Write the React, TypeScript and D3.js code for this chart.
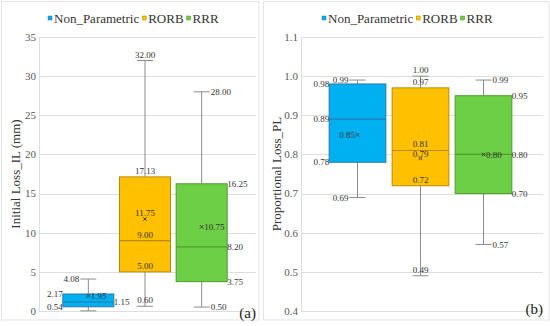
import React, { useEffect, useRef } from "react";
import * as d3 from "d3";

const series = ["Non_Parametric", "RORB", "RRR"];
const fills = ["#00B0F0", "#FFC000", "#6CCF45"];
const strokes = ["#2779a8", "#b98a00", "#4f9a30"];

// Panel (a): Initial Loss_IL (mm)
const ilMin = [0.02, 0.6, 0.5];
const ilQ1 = [0.54, 5.0, 3.75];
const ilMed = [1.15, 9.0, 8.2];
const ilQ3 = [2.17, 17.13, 16.25];
const ilMax = [4.08, 32.0, 28.0];
const ilMean = [1.95, 11.75, 10.75];
const ilTicks = [0, 5, 10, 15, 20, 25, 30, 35];

// Panel (b): Proportional Loss_PL
const plMin = [0.69, 0.49, 0.57];
const plQ1 = [0.78, 0.72, 0.7];
const plMed = [0.89, 0.81, 0.8];
const plQ3 = [0.98, 0.97, 0.95];
const plMax = [0.99, 1.0, 0.99];
const plMean = [0.85, 0.79, 0.8];
const plTicks = [0.4, 0.5, 0.6, 0.7, 0.8, 0.9, 1.0, 1.1];

// label placement per series: [min, q1, med, q3, max, mean]
const ilPlace = [
  ["none", "left", "right", "left", "left", "right"],
  ["above", "above", "above", "above", "above", "above"],
  ["right", "right", "right", "right", "right", "right"],
];
const plPlace = [
  ["left", "left", "left", "left", "left", "left"],
  ["above", "above", "above", "above", "above", "above"],
  ["right", "right", "right", "right", "right", "right"],
];

const FONT = "'Palatino Linotype','Book Antiqua','Liberation Serif','DejaVu Serif',serif";

export default function App() {
  const ref = useRef<SVGSVGElement>(null);
  useEffect(() => {
    const svg = d3.select(ref.current);
    svg.selectAll("*").remove();

    const panels = [
      {
        frame: [1.5, 1.5, 257.5, 318.5],
        x0: 39, x1: 256, y0: 37, y1: 311,
        domain: [0, 35], ticks: ilTicks, fmt: d3.format("d"),
        band: [60, 230], capW: 16,
        min: ilMin, q1: ilQ1, med: ilMed, q3: ilQ3, max: ilMax, mean: ilMean,
        place: ilPlace, title: "Initial Loss_IL (mm)", titleX: 15,
        legendX: 48, tag: "(a)", tagX: 256, tagY: 318,
      },
      {
        frame: [263.5, 1.5, 285.5, 318.5],
        x0: 301, x1: 543, y0: 37, y1: 311,
        domain: [0.4, 1.1], ticks: plTicks, fmt: d3.format(".1f"),
        band: [326, 515], capW: 16,
        min: plMin, q1: plQ1, med: plMed, q3: plQ3, max: plMax, mean: plMean,
        place: plPlace, title: "Proportional Loss_PL", titleX: 276,
        legendX: 322, tag: "(b)", tagX: 543, tagY: 314,
      },
    ];

    panels.forEach((p) => {
      const g = svg.append("g");
      g.append("rect")
        .attr("x", p.frame[0]).attr("y", p.frame[1])
        .attr("width", p.frame[2]).attr("height", p.frame[3])
        .attr("fill", "white").attr("stroke", "#e3e3e3");

      const y = d3.scaleLinear().domain(p.domain).range([p.y1, p.y0]);
      const x = d3.scaleBand<string>().domain(series).range(p.band as [number, number])
        .paddingInner(0.1).paddingOuter(0.05);

      // grid
      p.ticks.forEach((t) => {
        g.append("line")
          .attr("x1", p.x0).attr("x2", p.x1)
          .attr("y1", Math.round(y(t)) + 0.5).attr("y2", Math.round(y(t)) + 0.5)
          .attr("stroke", "#dedede");
        g.append("text")
          .attr("x", p.x0 - 3).attr("y", y(t)).attr("dy", "0.35em")
          .attr("text-anchor", "end").attr("font-size", 11)
          .attr("font-family", FONT).attr("fill", "#595959")
          .text(p.fmt(t));
      });
      g.append("line")
        .attr("x1", p.x0 + 0.5).attr("x2", p.x0 + 0.5)
        .attr("y1", p.y0).attr("y2", p.y1)
        .attr("stroke", "#dedede");

      // title
      g.append("text")
        .attr("transform", `translate(${p.titleX},${(p.y0 + p.y1) / 2}) rotate(-90)`)
        .attr("text-anchor", "middle").attr("dy", "0.35em")
        .attr("font-size", 13).attr("font-family", FONT).attr("fill", "#333")
        .text(p.title);

      // tag
      g.append("text")
        .attr("x", p.tagX).attr("y", p.tagY)
        .attr("text-anchor", "end").attr("font-size", 15)
        .attr("font-family", FONT).attr("fill", "#222")
        .text(p.tag);

      // legend
      let lx = p.legendX;
      series.forEach((s, i) => {
        g.append("rect").attr("x", lx).attr("y", 16).attr("width", 4).attr("height", 4)
          .attr("fill", fills[i]).attr("stroke", strokes[i]).attr("stroke-width", 0.5);
        const t = g.append("text").attr("x", lx + 6).attr("y", 22.5)
          .attr("font-size", 13).attr("font-family", FONT).attr("fill", "#333").text(s);
        const w = (t.node() as SVGTextElement).getComputedTextLength();
        lx += 6 + w + 3;
      });

      series.forEach((s, i) => {
        const bx = x(s)!;
        const bw = x.bandwidth();
        const cx = bx + bw / 2;
        const cap = p.capW / 2;
        const grey = "#8c8c8c";
        // whiskers
        g.append("line").attr("x1", cx).attr("x2", cx)
          .attr("y1", y(p.max[i])).attr("y2", y(p.q3[i])).attr("stroke", grey);
        g.append("line").attr("x1", cx).attr("x2", cx)
          .attr("y1", y(p.q1[i])).attr("y2", y(p.min[i])).attr("stroke", grey);
        [p.max[i], p.min[i]].forEach((v) => {
          g.append("line").attr("x1", cx - cap).attr("x2", cx + cap)
            .attr("y1", y(v)).attr("y2", y(v)).attr("stroke", grey);
        });
        // box
        g.append("rect").attr("x", bx).attr("y", y(p.q3[i]))
          .attr("width", bw).attr("height", y(p.q1[i]) - y(p.q3[i]))
          .attr("fill", fills[i]).attr("stroke", strokes[i]);
        g.append("line").attr("x1", bx).attr("x2", bx + bw)
          .attr("y1", y(p.med[i])).attr("y2", y(p.med[i]))
          .attr("stroke", strokes[i]).attr("stroke-width", 1.2);
        // mean marker
        const my = y(p.mean[i]);
        const m = 1.8;
        g.append("path")
          .attr("d", `M${cx - m},${my - m}L${cx + m},${my + m}M${cx - m},${my + m}L${cx + m},${my - m}`)
          .attr("stroke", "#333").attr("stroke-width", 0.9);

        // labels
        const vals = [p.min[i], p.q1[i], p.med[i], p.q3[i], p.max[i], p.mean[i]];
        const kinds = ["cap", "box", "box", "box", "cap", "mean"];
        const items: { tx: number; ty: number; anchor: string; text: string; above: boolean }[] = [];
        vals.forEach((v, k) => {
          const pl = p.place[i][k];
          if (pl === "none") return;
          let tx = cx, anchor = "middle", ty = y(v);
          if (pl === "above") {
            ty = y(v) - 6;
          } else if (pl === "left") {
            anchor = "end";
            tx = kinds[k] === "box" ? bx : kinds[k] === "cap" ? cx - cap - 1 : cx - 2.5;
          } else {
            anchor = "start";
            tx = kinds[k] === "box" ? bx + bw : kinds[k] === "cap" ? cx + cap + 1 : cx + 2.5;
          }
          items.push({ tx, ty, anchor, text: d3.format(".2f")(v), above: pl === "above" });
        });
        // separate stacked centered labels that would touch
        const stacked = items.filter((d) => d.above).sort((a, b) => a.ty - b.ty);
        for (let j = 1; j < stacked.length; j++) {
          const gap = stacked[j].ty - stacked[j - 1].ty;
          if (gap < 10) {
            const push = (10 - gap) / 2;
            stacked[j - 1].ty -= push;
            stacked[j].ty += push;
          }
        }
        items.forEach((d) => {
          g.append("text").attr("x", d.tx).attr("y", d.ty).attr("dy", "0.35em")
            .attr("text-anchor", d.anchor).attr("font-size", 9)
            .attr("font-family", FONT).attr("fill", "#333")
            .text(d.text);
        });
      });
    });
  }, []);
  return (
    <svg ref={ref} width={550} height={326}
      style={{ position: "absolute", left: 0, top: 0, background: "white" }} />
  );
}
